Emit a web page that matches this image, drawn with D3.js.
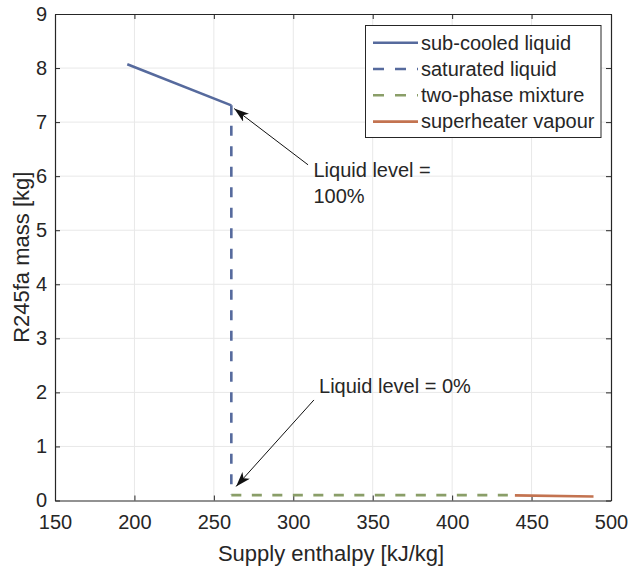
<!DOCTYPE html>
<html>
<head>
<meta charset="utf-8">
<script src="https://cdn.jsdelivr.net/npm/d3@7/dist/d3.min.js"></script>
<style>
  html, body { margin: 0; padding: 0; background: #fff; }
  svg { display: block; font-family: "Liberation Sans", Arial, sans-serif; }
</style>
</head>
<body>
<svg id="chart" width="629" height="569"></svg>
<script>
// R245fa charge versus supply enthalpy, split by refrigerant state
const xTicks = [150, 200, 250, 300, 350, 400, 450, 500];
const yTicks = [0, 1, 2, 3, 4, 5, 6, 7, 8, 9];

const subCooled   = [[195.5, 8.07], [261, 7.31]];
const saturated   = [[261, 7.31], [261, 0.10]];
const twoPhase    = [[261, 0.10], [439.5, 0.10]];
const superheated = [[439.5, 0.095], [489, 0.075]];

const seriesNames = ["sub-cooled liquid", "saturated liquid", "two-phase mixture", "superheater vapour"];
const seriesColors = ["#566a9d", "#566a9d", "#8a9e68", "#c37350"];
const seriesDashed = [false, true, true, false];
const seriesData = [subCooled, saturated, twoPhase, superheated];

// annotation arrows: [tail h, tail m], [tip h, tip m], text anchor, text lines
const notes = [
  { tail: [309.3, 6.21], tip: [262.8, 7.25], text: [312.7, 5.98], lines: ["Liquid level =", "100%"] },
  { tail: [313.0, 1.86], tip: [264.0, 0.26], text: [316.2, 1.99], lines: ["Liquid level = 0%"] }
];

const svg = d3.select("#chart");
const plotLeft = 55, plotRight = 611, plotTop = 14, plotBottom = 500.5;

const x = d3.scaleLinear().domain([150, 500]).range([plotLeft, plotRight]);
const y = d3.scaleLinear().domain([0, 9]).range([plotBottom, plotTop]);

const ink = "#262626";

// grid
const grid = svg.append("g");
grid.selectAll(".gx").data(xTicks.slice(1, -1)).enter().append("line")
  .attr("x1", d => x(d)).attr("x2", d => x(d)).attr("y1", plotTop).attr("y2", plotBottom)
  .attr("stroke", "#e8e8e8").attr("stroke-width", 1);
grid.selectAll(".gy").data(yTicks.slice(1, -1)).enter().append("line")
  .attr("y1", d => y(d)).attr("y2", d => y(d)).attr("x1", plotLeft).attr("x2", plotRight)
  .attr("stroke", "#e8e8e8").attr("stroke-width", 1);

// axes with inward ticks on all four sides
const fmt = d3.format("d");
const axB = svg.append("g").attr("transform", `translate(0,${plotBottom})`)
  .call(d3.axisBottom(x).tickValues(xTicks).tickFormat(fmt).tickSizeInner(-5).tickSizeOuter(0).tickPadding(14));
const axT = svg.append("g").attr("transform", `translate(0,${plotTop})`)
  .call(d3.axisTop(x).tickValues(xTicks).tickFormat("").tickSizeInner(-5).tickSizeOuter(0));
const axL = svg.append("g").attr("transform", `translate(${plotLeft},0)`)
  .call(d3.axisLeft(y).tickValues(yTicks).tickFormat(fmt).tickSizeInner(-5).tickSizeOuter(0).tickPadding(8));
const axR = svg.append("g").attr("transform", `translate(${plotRight},0)`)
  .call(d3.axisRight(y).tickValues(yTicks).tickFormat("").tickSizeInner(-5).tickSizeOuter(0));

[axB, axT, axL, axR].forEach(a => {
  a.select(".domain").attr("stroke", ink).attr("stroke-width", 1.2);
  a.selectAll(".tick line").attr("stroke", ink).attr("stroke-width", 1);
  a.selectAll(".tick text").attr("fill", ink).attr("font-size", 20)
    .attr("font-family", "'Liberation Sans', Arial, sans-serif");
});

// series lines
const line = d3.line().x(d => x(d[0])).y(d => y(d[1]));
seriesData.forEach((data, i) => {
  svg.append("path").datum(data)
    .attr("d", line)
    .attr("fill", "none")
    .attr("stroke", seriesColors[i])
    .attr("stroke-width", 2.6)
    .attr("stroke-dasharray", seriesDashed[i] ? "10,10.5" : null);
});

// arrow head marker
svg.append("defs").append("marker")
  .attr("id", "head").attr("viewBox", "0 0 15 10")
  .attr("refX", 15).attr("refY", 5)
  .attr("markerWidth", 15).attr("markerHeight", 10)
  .attr("markerUnits", "userSpaceOnUse")
  .attr("orient", "auto")
  .append("path").attr("d", "M0,0 L15,5 L0,10 L4,5 Z").attr("fill", "#111");

notes.forEach(n => {
  svg.append("line")
    .attr("x1", x(n.tail[0])).attr("y1", y(n.tail[1]))
    .attr("x2", x(n.tip[0])).attr("y2", y(n.tip[1]))
    .attr("stroke", "#111").attr("stroke-width", 1)
    .attr("marker-end", "url(#head)");
  const t = svg.append("text")
    .attr("x", x(n.text[0])).attr("y", y(n.text[1]))
    .attr("fill", ink).attr("font-size", 20);
  n.lines.forEach((s, k) => {
    t.append("tspan").attr("x", x(n.text[0])).attr("dy", k === 0 ? 0 : 26).text(s);
  });
});

// legend
const lg = svg.append("g");
lg.append("rect").attr("x", 365.5).attr("y", 25.5).attr("width", 235.5).attr("height", 112)
  .attr("fill", "#fff").attr("stroke", ink).attr("stroke-width", 1);
seriesNames.forEach((name, i) => {
  const cy = 42.7 + i * 26.3;
  lg.append("line").attr("x1", 373).attr("x2", 418).attr("y1", cy).attr("y2", cy)
    .attr("stroke", seriesColors[i]).attr("stroke-width", 2.6)
    .attr("stroke-dasharray", seriesDashed[i] ? "11,11" : null);
  lg.append("text").attr("x", 421).attr("y", cy + 6.8).attr("fill", ink)
    .attr("font-size", 20).text(name);
});

// axis titles
svg.append("text").attr("x", 331).attr("y", 560.5)
  .attr("text-anchor", "middle").attr("fill", ink).attr("font-size", 22)
  .text("Supply enthalpy [kJ/kg]");
svg.append("text").attr("transform", `translate(29,${(plotTop + plotBottom) / 2}) rotate(-90)`)
  .attr("text-anchor", "middle").attr("fill", ink).attr("font-size", 22)
  .text("R245fa mass [kg]");
</script>
</body>
</html>
